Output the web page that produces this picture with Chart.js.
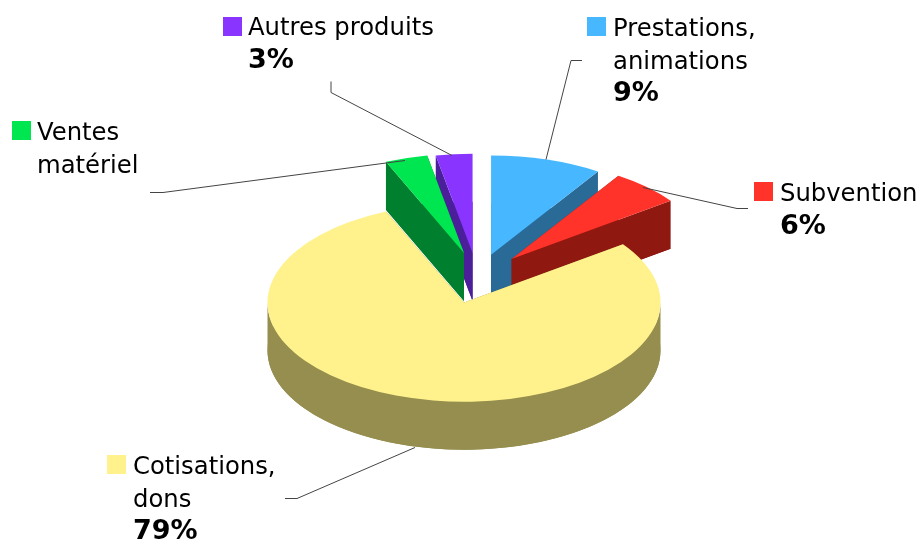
<!DOCTYPE html>
<html lang="fr">
<head>
<meta charset="utf-8">
<title>Recettes</title>
<script src="https://cdn.jsdelivr.net/npm/chart.js@4"></script>
<style>
  html, body { margin: 0; padding: 0; background: #fff; }
  canvas { display: block; }
</style>
</head>
<body>
<canvas id="pie3d" width="921" height="540"></canvas>
<script>
// Data, clockwise from the top
const categories = ['Prestations, animations', 'Subvention', 'Cotisations, dons', 'Ventes matériel', 'Autres produits'];
const values = [9.15, 5.85, 78.5, 3.5, 3];
const percentLabels = ['9%', '6%', '79%', '', '3%'];

const topColors = ['#47b8ff', '#ff3329', '#fff28c', '#00e650', '#8a35ff'];
const wallColors = ['#296a96', '#8f1810', '#968e4f', '#007f2e', '#4b1f9a'];

// Fake 3D settings
const squash = 0.505;
const depth = 48;
const explodeDistance = [0.5, 0.5, 0, 0.5, 0.5];
const explodeDirection = [16, 29, 0, 0, 5]; // degrees from the top
const drawOrder = [0, 1, 4, 3, 2]; // back to front

// Label blocks: swatch corner, text lines with baselines, leader line
const labelBlocks = [
    { swatch: [587, 17], x: 613, lines: ['Prestations,', 'animations'], y: 36, leader: [[582, 60], [571, 60], [546, 159]] },
    { swatch: [754, 182], x: 780, lines: ['Subvention'], y: 201, leader: [[748, 208], [737, 208], [643, 187]] },
    { swatch: [107, 455], x: 133, lines: ['Cotisations,', 'dons'], y: 474, leader: [[285, 498], [297, 498], [415, 447]] },
    { swatch: [12, 121], x: 37, lines: ['Ventes', 'matériel'], y: 140, leader: [[150, 192], [163, 192], [405, 160]] },
    { swatch: [223, 17], x: 248, lines: ['Autres produits'], y: 35, leader: [[331, 81], [331, 92], [452, 155]] }
];

function wedgeGeometry(arc, i) {
    const p = arc.getProps(['x', 'y', 'startAngle', 'endAngle', 'outerRadius']);
    const r = p.outerRadius;
    const dir = explodeDirection[i] * Math.PI / 180;
    return {
        ax: p.x + Math.sin(dir) * explodeDistance[i] * r,
        ay: p.y - Math.cos(dir) * explodeDistance[i] * r * squash,
        rx: r,
        ry: r * squash,
        start: p.startAngle,
        end: p.endAngle
    };
}

function fillWall(ctx, g) {
    // bottom face
    ctx.beginPath();
    ctx.moveTo(g.ax, g.ay + depth);
    ctx.ellipse(g.ax, g.ay + depth, g.rx, g.ry, 0, g.start, g.end);
    ctx.closePath();
    ctx.fill();
    // curved outer band, only the front half can be seen
    const a = Math.max(g.start, 0);
    const b = Math.min(g.end, Math.PI);
    if (b > a) {
        ctx.beginPath();
        ctx.ellipse(g.ax, g.ay, g.rx, g.ry, 0, a, b);
        ctx.ellipse(g.ax, g.ay + depth, g.rx, g.ry, 0, b, a, true);
        ctx.closePath();
        ctx.fill();
    }
    // the two flat cut faces
    [g.start, g.end].forEach(angle => {
        const ex = g.ax + Math.cos(angle) * g.rx;
        const ey = g.ay + Math.sin(angle) * g.ry;
        ctx.beginPath();
        ctx.moveTo(g.ax, g.ay);
        ctx.lineTo(ex, ey);
        ctx.lineTo(ex, ey + depth);
        ctx.lineTo(g.ax, g.ay + depth);
        ctx.closePath();
        ctx.fill();
    });
}

const pie3dPlugin = {
    id: 'pie3d',
    beforeDatasetDraw(chart) {
        const ctx = chart.ctx;
        const arcs = chart.getDatasetMeta(0).data;
        drawOrder.forEach(i => {
            const g = wedgeGeometry(arcs[i], i);
            ctx.fillStyle = wallColors[i];
            fillWall(ctx, g);
            ctx.fillStyle = topColors[i];
            ctx.beginPath();
            ctx.moveTo(g.ax, g.ay);
            ctx.ellipse(g.ax, g.ay, g.rx, g.ry, 0, g.start, g.end);
            ctx.closePath();
            ctx.fill();
        });
        return false; // we drew the arcs ourselves
    },
    afterDraw(chart) {
        const ctx = chart.ctx;
        ctx.textBaseline = 'alphabetic';
        labelBlocks.forEach((block, i) => {
            // leader line
            ctx.strokeStyle = '#444444';
            ctx.lineWidth = 1;
            ctx.beginPath();
            block.leader.forEach((pt, n) => {
                if (n === 0) ctx.moveTo(pt[0], pt[1] + 0.5);
                else ctx.lineTo(pt[0], pt[1] + 0.5);
            });
            ctx.stroke();

            ctx.fillStyle = topColors[i];
            ctx.fillRect(block.swatch[0], block.swatch[1], 19, 19);

            ctx.fillStyle = '#000000';
            ctx.font = '24.3px "DejaVu Sans"';
            block.lines.forEach((line, n) => ctx.fillText(line, block.x, block.y + n * 32.5));
            if (percentLabels[i]) {
                ctx.font = 'bold 27px "DejaVu Sans"';
                ctx.fillText(percentLabels[i], block.x, block.y + block.lines.length * 32.5);
            }
        });
    }
};

new Chart(document.getElementById('pie3d').getContext('2d'), {
    type: 'pie',
    data: {
        labels: categories,
        datasets: [{
            data: values,
            backgroundColor: topColors,
            borderWidth: 0,
            radius: 196.5
        }]
    },
    options: {
        responsive: false,
        animation: false,
        layout: { padding: { left: 7, top: 65 } },
        plugins: {
            legend: { display: false },
            tooltip: { enabled: false }
        }
    },
    plugins: [pie3dPlugin]
});
</script>
</body>
</html>
